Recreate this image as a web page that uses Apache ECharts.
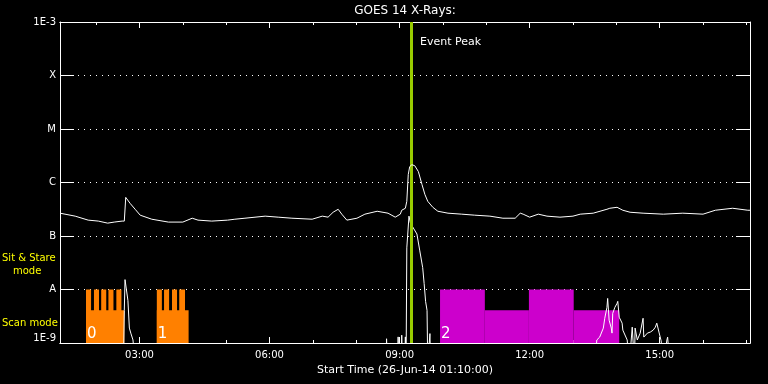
<!DOCTYPE html>
<html><head><meta charset="utf-8">
<script src="https://cdn.jsdelivr.net/npm/echarts@6/dist/echarts.min.js"></script>
<style>html,body{margin:0;padding:0;background:#000}#c{width:768px;height:384px}</style>
</head><body><div id="c"></div>
<script>
// ---- data ----
const startTime = "01:10";
const endTime = "17:05";
const peakTime = "09:16";
const majorTickTimes = ["03:00","06:00","09:00","12:00","15:00"];
const minorTickTimes = ["02:00","03:00","04:00","05:00","06:00","07:00","08:00","09:00","10:00","11:00","12:00","13:00","14:00","15:00","16:00","17:00"];
const yLevelLabels = ["1E-9","A","B","C","M","X","1E-3"];

// GOES long channel (1-8 A)
const longTimes = ["01:10","01:31","01:49","02:03","02:16","02:25","02:36","02:39","02:41","02:47","02:54","03:01","03:17","03:40","04:00","04:13","04:21","04:40","05:02","05:12","05:26","05:54","06:12","06:31","06:59","07:13","07:21","07:28","07:35","07:40","07:47","08:01","08:12","08:29","08:44","08:54","09:01","09:03","09:08","09:10","09:12","09:14","09:17","09:21","09:26","09:31","09:35","09:39","09:46","09:53","10:07","10:26","10:44","11:05","11:23","11:40","11:47","11:51","12:00","12:12","12:24","12:42","13:00","13:10","13:28","13:47","13:51","14:01","14:09","14:19","14:37","15:05","15:32","16:00","16:17","16:41","17:02","17:05"];
const longFlux = [2.67e-7,2.35e-7,1.98e-7,1.90e-7,1.74e-7,1.82e-7,1.90e-7,1.90e-7,5.27e-7,4.08e-7,3.16e-7,2.45e-7,2.06e-7,1.82e-7,1.82e-7,2.15e-7,1.98e-7,1.90e-7,1.98e-7,2.06e-7,2.15e-7,2.35e-7,2.25e-7,2.15e-7,2.06e-7,2.35e-7,2.25e-7,2.78e-7,3.16e-7,2.56e-7,1.98e-7,2.15e-7,2.56e-7,2.90e-7,2.67e-7,2.25e-7,2.56e-7,3.03e-7,3.30e-7,4.45e-7,1.41e-6,1.98e-6,2.15e-6,2.06e-6,1.60e-6,9.18e-7,6.0e-7,4.45e-7,3.44e-7,2.90e-7,2.67e-7,2.56e-7,2.45e-7,2.35e-7,2.15e-7,2.15e-7,2.67e-7,2.56e-7,2.25e-7,2.56e-7,2.35e-7,2.25e-7,2.35e-7,2.56e-7,2.67e-7,3.16e-7,3.30e-7,3.44e-7,3.03e-7,2.78e-7,2.67e-7,2.56e-7,2.67e-7,2.56e-7,3.03e-7,3.30e-7,3.03e-7,3.03e-7];

// GOES short channel (0.5-4 A)
const shortTimes = ["02:30","02:38","02:39","02:40","02:44","02:46","02:48","02:51","02:54","08:41","08:42","08:43","08:57","08:58","08:59","09:02","09:03","09:04","09:07","09:08","09:09","09:10","09:13","09:15","09:24","09:28","09:32","09:34","09:36","09:38","09:39","09:41","09:42","09:43","13:30","13:33","13:37","13:42","13:44","13:47","13:48","13:50","13:53","13:54","13:55","13:58","14:01","14:02","14:04","14:08","14:09","14:15","14:18","14:22","14:25","14:26","14:29","14:33","14:37","14:38","14:43","14:47","14:51","14:54","14:56","14:59","15:02","15:05","15:10","15:11","15:14"];
const shortFlux = [4e-10,5e-10,4.08e-9,1.53e-8,6.25e-9,1.9e-9,1.53e-9,1.14e-9,4e-10,4e-10,1.2e-9,4e-10,4e-10,1.3e-9,4e-10,4e-10,1.4e-9,4e-10,4e-10,1.3e-9,4e-10,6.0e-8,2.35e-7,1.74e-7,1.09e-7,5.27e-8,2.56e-8,1.29e-8,6.0e-9,4.08e-9,4e-10,4e-10,1.5e-9,4e-10,4e-10,1.14e-9,1.29e-9,1.9e-9,2.9e-9,4.64e-9,6.81e-9,2.67e-9,1.9e-9,1.53e-9,3.59e-9,4.64e-9,5.5e-9,6.0e-9,3.03e-9,2.35e-9,1.74e-9,1.14e-9,4e-10,1.98e-9,4e-10,1.9e-9,1.14e-9,1.53e-9,2.9e-9,1.29e-9,1.53e-9,1.6e-9,1.74e-9,1.98e-9,2.35e-9,1.6e-9,1.1e-9,4e-10,1.14e-9,1.29e-9,4e-10];

// Observing mode blocks: [start, end, level]
const scanBlocks = [["01:46","02:39",4.08e-9],["03:24","04:08",4.08e-9]];
const stareBlocks = [["01:46","01:53",1e-8],["01:57","02:04",1e-8],["02:07","02:14",1e-8],["02:17","02:24",1e-8],["02:28","02:35",1e-8],
                     ["03:24","03:31",1e-8],["03:34","03:41",1e-8],["03:45","03:52",1e-8],["03:55","04:03",1e-8]];
const rasterBlocks = [["09:56","10:58",1e-8],["10:58","11:59",4.08e-9],["11:59","13:01",1e-8],["13:01","14:04",4.08e-9]];
const rasterLabelTimes = ["01:46","03:24","09:56"];
const rasterLabels = ["0","1","2"];
const yMin = 1e-9, yMax = 1e-3;

// ---- chart ----
const toMin = s => { const p = s.split(':').map(Number); return p[0]*60 + p[1]; };
const fmt = m => { const h = Math.floor(m/60), mm = Math.round(m%60); return (h<10?'0':'')+h+':'+(mm<10?'0':'')+mm; };
const FONT = 'DejaVu Sans';
const xMin = toMin(startTime), xMax = toMin(endTime);

const blockSeries = (rows, color, z) => ({
  type:'custom', z, silent:true,
  data: rows.map(r => [toMin(r[0]), toMin(r[1]), r[2]]),
  encode:{x:[0,1], y:2},
  renderItem:(params, api) => {
    const p0 = api.coord([api.value(0), api.value(2)]);
    const p1 = api.coord([api.value(1), yMin]);
    return {type:'rect', shape:{x:p0[0], y:p0[1], width:p1[0]-p0[0], height:p1[1]-p0[1]}, style:{fill:color}};
  }
});

const xBase = (extra) => Object.assign({
  type:'value', min:xMin, max:xMax, gridIndex:0,
  axisLine:{show:true, lineStyle:{color:'#fff', width:1}},
  splitLine:{show:false}, axisLabel:{show:false}
}, extra);

const yBase = (extra) => Object.assign({
  type:'log', logBase:10, min:yMin, max:yMax, splitNumber:6,
  axisLine:{show:true, lineStyle:{color:'#fff', width:1}},
  axisTick:{show:true, inside:true, length:14, lineStyle:{color:'#fff'}},
  splitLine:{show:false}, axisLabel:{show:false}
}, extra);

const chart = echarts.init(document.getElementById('c'), null, {renderer:'canvas'});
chart.setOption({
  backgroundColor:'#000',
  animation:false,
  grid:{left:60, right:18, top:19, bottom:41},
  xAxis:[
    xBase({position:'bottom',
      name:'Start Time (26-Jun-14 01:10:00)', nameLocation:'middle', nameGap:19,
      nameTextStyle:{color:'#fff', fontFamily:FONT, fontSize:11},
      axisTick:{show:true, inside:true, length:6, customValues:majorTickTimes.map(toMin), lineStyle:{color:'#fff'}},
      axisLabel:{show:true, color:'#fff', fontFamily:FONT, fontSize:10, margin:7, customValues:majorTickTimes.map(toMin), formatter:v=>fmt(v)}}),
    xBase({position:'bottom', offset:0,
      axisTick:{show:true, inside:true, length:3, customValues:minorTickTimes.map(toMin), lineStyle:{color:'#fff'}}}),
    xBase({position:'top',
      name:'GOES 14 X-Rays:', nameLocation:'middle', nameGap:5,
      nameTextStyle:{color:'#fff', fontFamily:FONT, fontSize:12, verticalAlign:'bottom'},
      axisTick:{show:true, inside:true, length:6, customValues:majorTickTimes.map(toMin), lineStyle:{color:'#fff'}}}),
    xBase({position:'top', offset:0,
      axisTick:{show:true, inside:true, length:3, customValues:minorTickTimes.map(toMin), lineStyle:{color:'#fff'}}})
  ],
  yAxis:[
    yBase({position:'left',
      splitLine:{show:true, lineStyle:{color:'#fff', type:[1,5], width:1}},
      axisLabel:{show:true, color:'#fff', fontFamily:FONT, fontSize:10, margin:4,
        verticalAlignMaxLabel:'top', verticalAlignMinLabel:'bottom',
        formatter:v => yLevelLabels[Math.round(Math.log10(v)) + 9]}}),
    yBase({position:'right'})
  ],
  graphic:[
    {type:'text', left:2, top:253, style:{text:'Sit & Stare', fill:'#ffff00', font:'10px "DejaVu Sans"'}},
    {type:'text', left:13, top:266, style:{text:'mode', fill:'#ffff00', font:'10px "DejaVu Sans"'}},
    {type:'text', left:2, top:318, style:{text:'Scan mode', fill:'#ffff00', font:'10px "DejaVu Sans"'}},
    {type:'text', left:420, top:37, style:{text:'Event Peak', fill:'#ffffff', font:'11px "DejaVu Sans"'}}
  ],
  series:[
    blockSeries(scanBlocks, '#ff8000', 1),
    blockSeries(stareBlocks, '#ff8000', 1),
    blockSeries(rasterBlocks, '#cc00cc', 1),
    {type:'custom', z:3, silent:true,
      data: rasterLabelTimes.map(t => [toMin(t), yMin]),
      encode:{x:0, y:1},
      renderItem:(params, api) => {
        const p = api.coord([api.value(0), api.value(1)]);
        return {type:'text', x:p[0]+1, y:p[1]-1, style:{text:rasterLabels[params.dataIndex], fill:'#fff', font:'15px "DejaVu Sans"', verticalAlign:'bottom', align:'left'}};
      }},
    {type:'line', z:4, showSymbol:false, silent:true, clip:true,
      data: shortTimes.map((t,i)=>[toMin(t), shortFlux[i]]),
      lineStyle:{color:'#fff', width:1}},
    {type:'line', z:5, showSymbol:false, silent:true, clip:true,
      data: longTimes.map((t,i)=>[toMin(t), longFlux[i]]),
      lineStyle:{color:'#fff', width:1},
      markLine:{silent:true, symbol:['none','none'], label:{show:false},
        lineStyle:{color:'#99cc00', width:3, type:'solid'},
        data:[{xAxis: toMin(peakTime)}]}}
  ]
});
</script>
</body></html>
